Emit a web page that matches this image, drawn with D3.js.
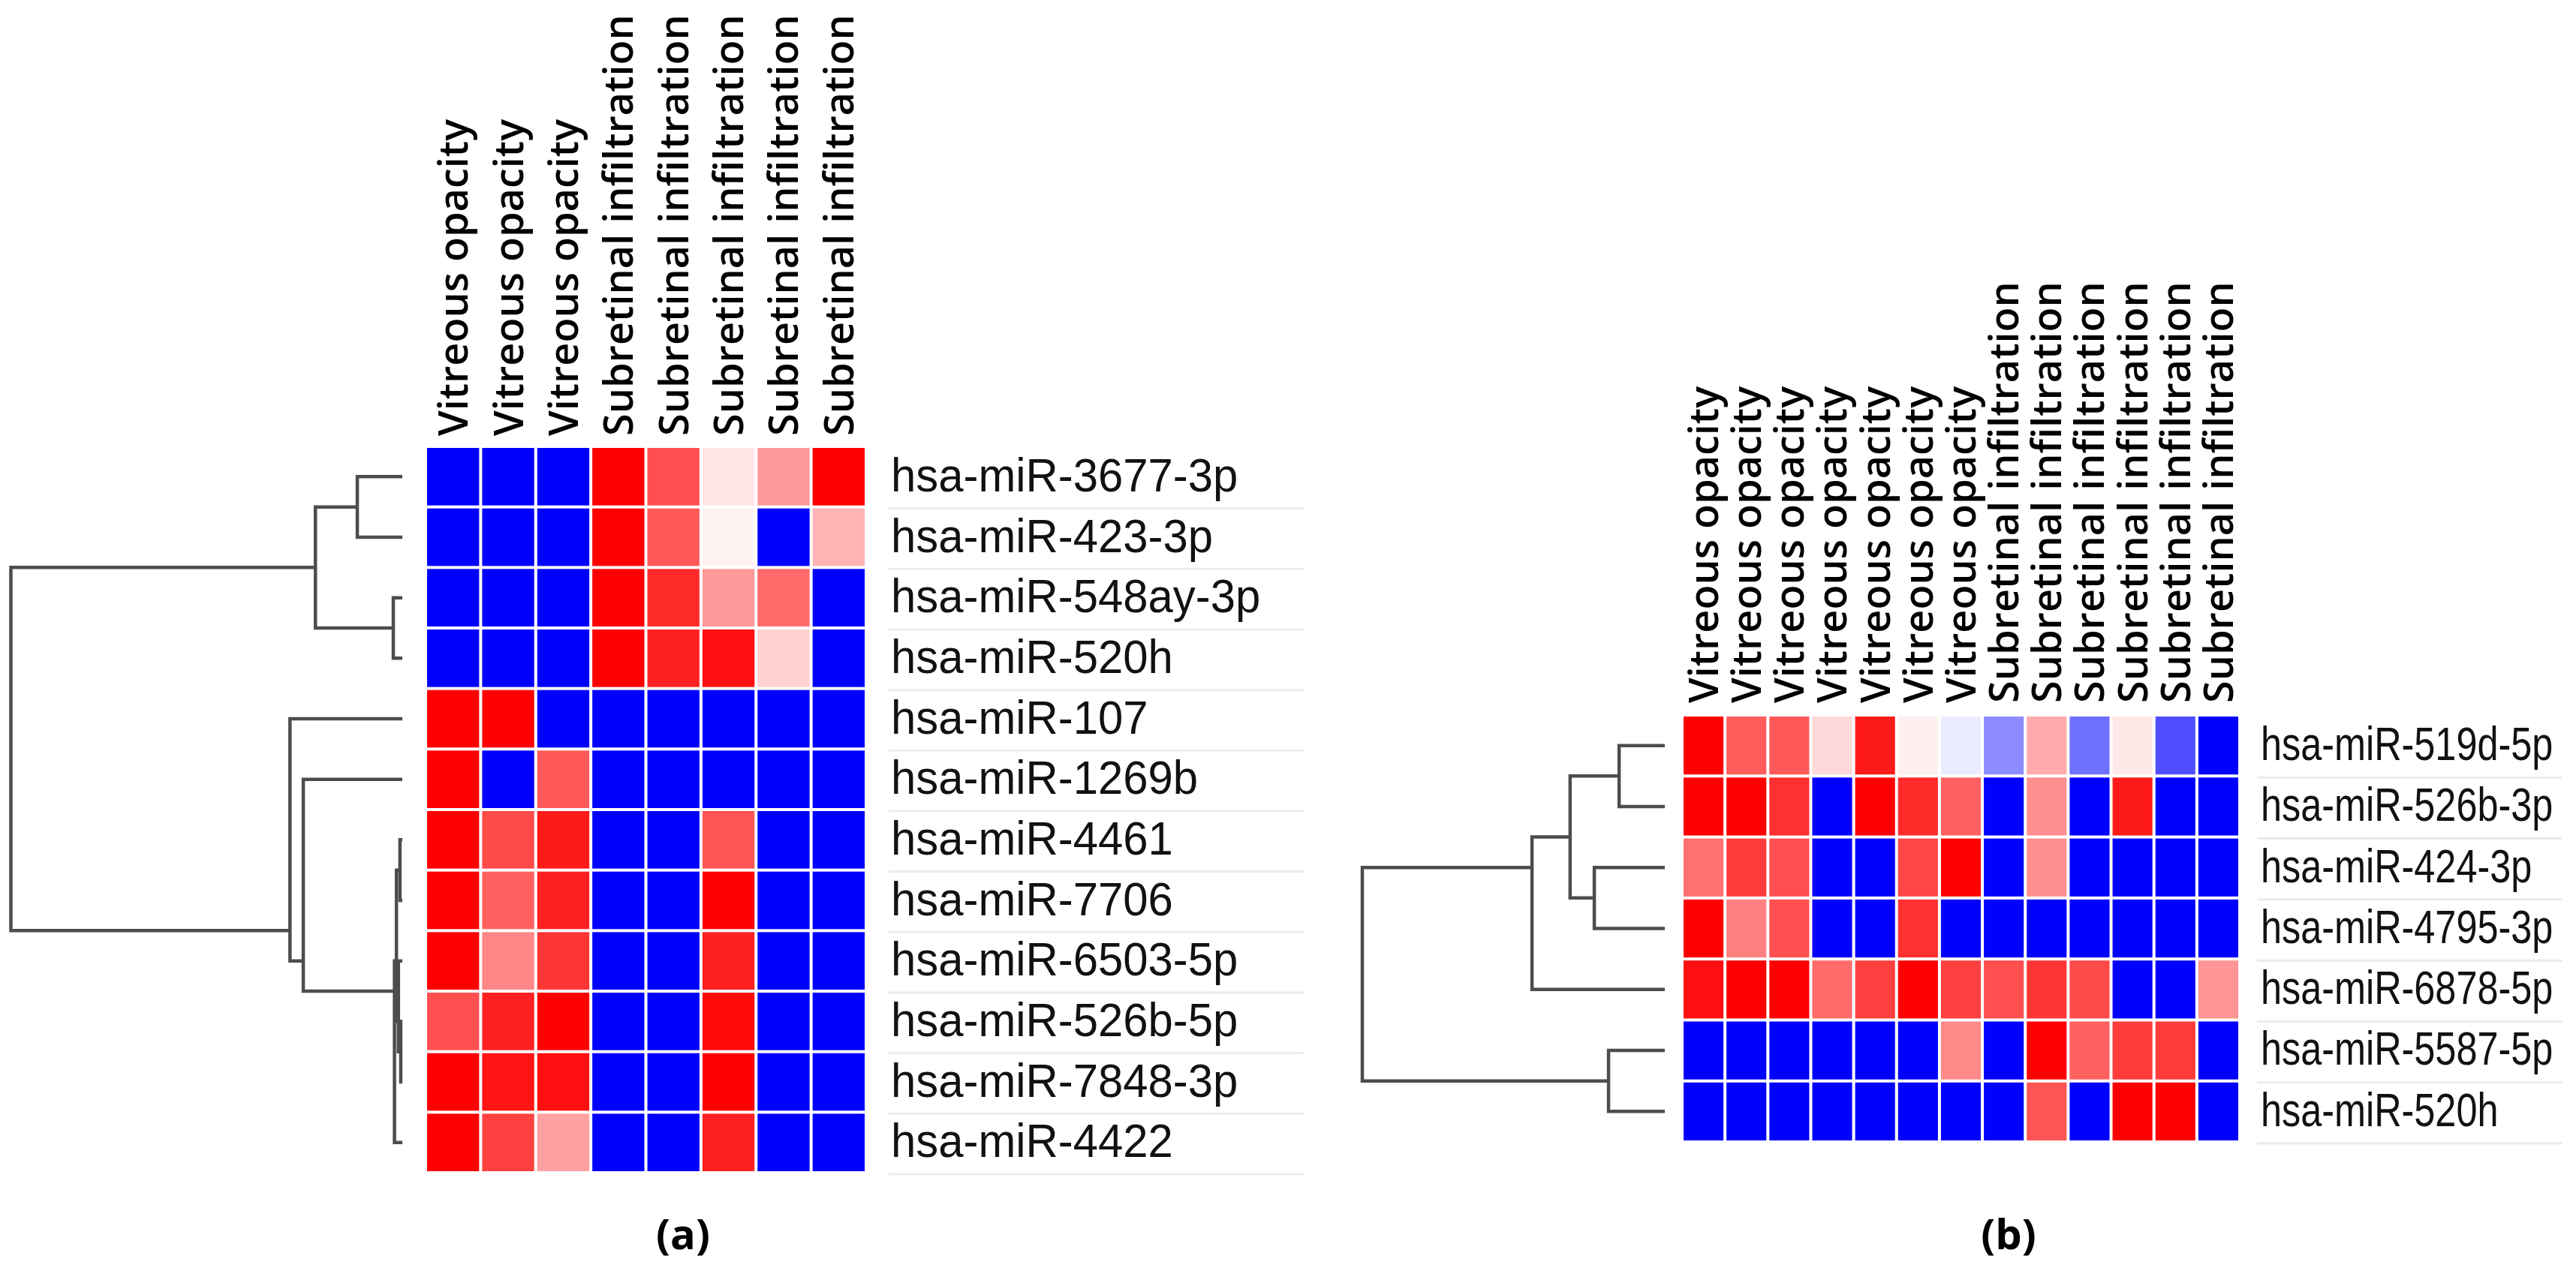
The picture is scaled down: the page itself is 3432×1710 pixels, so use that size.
<!DOCTYPE html>
<html><head><meta charset="utf-8">
<script src="https://cdn.jsdelivr.net/npm/d3@7/dist/d3.min.js"></script>
<style>html,body{margin:0;padding:0;background:#fff;}svg{display:block}</style>
</head><body>
<svg id="chart" width="3432" height="1710"></svg>
<script>
// ---------------- DATA ----------------
// Panel (a)
const colLabelsA = ["Vitreous opacity","Vitreous opacity","Vitreous opacity",
  "Subretinal infiltration","Subretinal infiltration","Subretinal infiltration",
  "Subretinal infiltration","Subretinal infiltration"];
const rowLabelsA = ["hsa-miR-3677-3p","hsa-miR-423-3p","hsa-miR-548ay-3p","hsa-miR-520h",
  "hsa-miR-107","hsa-miR-1269b","hsa-miR-4461","hsa-miR-7706","hsa-miR-6503-5p",
  "hsa-miR-526b-5p","hsa-miR-7848-3p","hsa-miR-4422"];
// relative expression, -1 = blue, 0 = white, +1 = red
const valuesA = [
  [-1,-1,-1, 1.00, 0.69, 0.10, 0.40, 1.00],
  [-1,-1,-1, 1.00, 0.65, 0.05,-1.00, 0.30],
  [-1,-1,-1, 1.00, 0.83, 0.40, 0.58,-1.00],
  [-1,-1,-1, 1.00, 0.87, 0.94, 0.18,-1.00],
  [ 1.00, 1.00,-1,-1,-1,-1,-1,-1],
  [ 1.00,-1.00, 0.65,-1,-1,-1,-1,-1],
  [ 1.00, 0.71, 0.90,-1,-1, 0.67,-1,-1],
  [ 1.00, 0.62, 0.87,-1,-1, 1.00,-1,-1],
  [ 1.00, 0.47, 0.79,-1,-1, 0.87,-1,-1],
  [ 0.69, 0.87, 1.00,-1,-1, 0.97,-1,-1],
  [ 1.00, 0.92, 0.94,-1,-1, 1.00,-1,-1],
  [ 1.00, 0.75, 0.37,-1,-1, 0.87,-1,-1]
];
// hierarchical clustering merges (R hclust style: -k = leaf row k-1, +k = merge k), height relative to root
const mergesA = [
  [-1,-2,0.115],[-3,-4,0.023],[1,2,0.222],
  [-7,-8,0.006],[-10,-11,0.004],[-9,5,0.010],[4,6,0.015],[7,-12,0.020],
  [-6,8,0.253],[-5,9,0.287],[3,10,1.0]
];

// Panel (b)
const colLabelsB = ["Vitreous opacity","Vitreous opacity","Vitreous opacity","Vitreous opacity",
  "Vitreous opacity","Vitreous opacity","Vitreous opacity",
  "Subretinal infiltration","Subretinal infiltration","Subretinal infiltration",
  "Subretinal infiltration","Subretinal infiltration","Subretinal infiltration"];
const rowLabelsB = ["hsa-miR-519d-5p","hsa-miR-526b-3p","hsa-miR-424-3p","hsa-miR-4795-3p",
  "hsa-miR-6878-5p","hsa-miR-5587-5p","hsa-miR-520h"];
const valuesB = [
  [1.00,0.64,0.65,0.15,0.90,0.06,-0.08,-0.45,0.33,-0.56,0.09,-0.69,-1],
  [1.00,1.00,0.81,-1,1.00,0.83,0.62,-1,0.44,-1,0.90,-1,-1],
  [0.56,0.77,0.69,-1,-1,0.73,1.00,-1,0.44,-1,-1,-1,-1],
  [1.00,0.50,0.69,-1,-1,0.81,-1,-1,-1,-1,-1,-1,-1],
  [0.94,1.00,1.00,0.58,0.75,1.00,0.75,0.69,0.79,0.71,-1,-1,0.42],
  [-1,-1,-1,-1,-1,-1,0.46,-1,1.00,0.62,0.77,0.77,-1],
  [-1,-1,-1,-1,-1,-1,-1,-1,0.67,-1,1.00,1.00,-1]
];
const mergesB = [
  [-1,-2,0.151],[-3,-4,0.233],[1,2,0.313],[3,-5,0.439],[-6,-7,0.186],[4,5,1.0]
];
const panelLabels = ["(a)","(b)"];

// ---------------- LAYOUT ----------------
const layoutA = {
  heat:{x0:569,x1:1152,y0:597,y1:1561}, dendro:{tip:536,root:14.5},
  colLabelGap:16, rowLabelX:1187, rowLabelScaleX:0.95, sepX:[1184,1738],
  panelLabel:{x:910,y:1645}
};
const layoutB = {
  heat:{x0:2243,x1:2982,y0:955,y1:1520}, dendro:{tip:2218,root:1815},
  colLabelGap:18, rowLabelX:3012, rowLabelScaleX:0.8, sepX:[3007,3414],
  panelLabel:{x:2676,y:1645}
};

const svg = d3.select("#chart");
const color = d3.scaleLinear().domain([-1,0,1]).range(["#0000ff","#ffffff","#ff0000"]);

function buildTree(merges){
  const nodes = [];
  const get = k => k < 0 ? {leaf:true,height:0,leaves:[-k-1],row:-k-1} : nodes[k-1];
  merges.forEach(([a,b,h]) => {
    const l = get(a), r = get(b);
    nodes.push({leaf:false,children:[l,r],height:h,leaves:l.leaves.concat(r.leaves)});
  });
  return nodes;
}

function drawPanel(cols, rows, values, merges, L, label){
  const g = svg.append("g");
  const x = d3.scaleBand().domain(d3.range(cols.length)).range([L.heat.x0,L.heat.x1]);
  x.paddingInner(4/((L.heat.x1-L.heat.x0)/cols.length));
  const y = d3.scaleBand().domain(d3.range(rows.length)).range([L.heat.y0,L.heat.y1]);
  y.paddingInner(4/((L.heat.y1-L.heat.y0)/rows.length));
  const step = y.step();

  // cells
  const cells = [];
  values.forEach((row,r)=>row.forEach((v,c)=>cells.push({r,c,v})));
  g.selectAll("rect.cell").data(cells).join("rect")
    .attr("x",d=>x(d.c)).attr("y",d=>y(d.r))
    .attr("width",x.bandwidth()).attr("height",y.bandwidth())
    .attr("fill",d=>color(d.v));

  // row separators
  g.selectAll("line.sep").data(d3.range(1,rows.length+1)).join("line")
    .attr("x1",L.sepX[0]).attr("x2",L.sepX[1])
    .attr("y1",d=>L.heat.y0+d*step).attr("y2",d=>L.heat.y0+d*step)
    .attr("stroke","#ebebeb").attr("stroke-width",3);

  // row labels
  g.selectAll("text.row").data(rows).join("text")
    .attr("transform",(d,i)=>`translate(${L.rowLabelX},${L.heat.y0+i*step+58}) scale(${L.rowLabelScaleX},1)`)
    .attr("font-family","'Liberation Sans', Arial, sans-serif")
    .attr("font-size",63).attr("fill","#111").text(d=>d);

  // column labels
  g.selectAll("text.col").data(cols).join("text")
    .attr("transform",(d,i)=>`translate(${x(i)+x.bandwidth()/2},${L.heat.y0-L.colLabelGap}) rotate(-90)`)
    .attr("dy","0.36em")
    .attr("font-family","'Open Sans', sans-serif").attr("font-weight",600)
    .attr("font-size",54).attr("fill","#000").text(d=>d);

  // dendrogram
  const nodes = buildTree(merges);
  const dx = d3.scaleLinear().domain([0,1]).range([L.dendro.tip,L.dendro.root]);
  const rowC = i => y(i)+y.bandwidth()/2;
  const ny = n => d3.mean(n.leaves, rowC);
  const nx = n => dx(n.height);
  g.selectAll("path.dendro").data(nodes).join("path")
    .attr("d",n=>{
      const [a,b] = n.children;
      return `M${nx(a)},${ny(a)}H${nx(n)}V${ny(b)}H${nx(b)}`;
    })
    .attr("fill","none").attr("stroke","#4d4d4d").attr("stroke-width",4.5);

  // panel label
  g.append("text").attr("x",L.panelLabel.x).attr("y",L.panelLabel.y)
    .attr("text-anchor","middle").attr("dy","0.35em")
    .attr("font-family","'Open Sans', sans-serif").attr("font-weight",700)
    .attr("font-size",56).attr("fill","#000").text(label);
}

drawPanel(colLabelsA,rowLabelsA,valuesA,mergesA,layoutA,panelLabels[0]);
drawPanel(colLabelsB,rowLabelsB,valuesB,mergesB,layoutB,panelLabels[1]);
</script>
</body></html>
